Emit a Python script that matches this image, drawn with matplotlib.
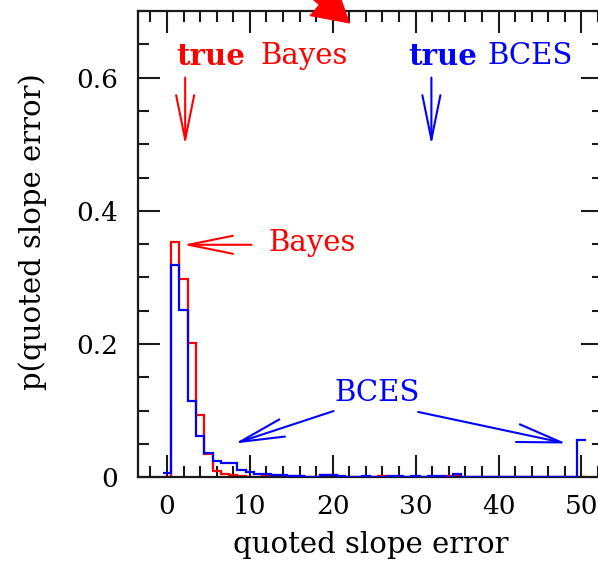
import numpy as np
import matplotlib
matplotlib.use("Agg")
import matplotlib.pyplot as plt
from matplotlib.ticker import MultipleLocator

# Histogram bins: unit width, centred on integers 0..50
bin_centers = np.arange(0, 51)
bin_edges = np.append(bin_centers - 0.5, bin_centers[-1] + 0.5)

p_bayes = [0.000, 0.353, 0.297, 0.202, 0.093, 0.035, 0.010, 0.005, 0.003, 0.002,
           0.001, 0.001, 0.002, 0.001, 0.001, 0.002, 0.002, 0.001, 0.001, 0.003,
           0.003, 0.000, 0.000, 0.001, 0.000, 0.001, 0.002, 0.000, 0.001, 0.001,
           0.000, 0.001, 0.001, 0.001, 0.002, 0.002, 0.001, 0.001, 0.001, 0.000,
           0.000, 0.000, 0.000, 0.000, 0.000, 0.001, 0.001, 0.000, 0.000, 0.000,
           0.001]

p_bces = [0.006, 0.318, 0.251, 0.114, 0.062, 0.036, 0.025, 0.022, 0.022, 0.011,
          0.0075, 0.005, 0.005, 0.0035, 0.0035, 0.002, 0.002, 0.001, 0.001, 0.004,
          0.004, 0.002, 0.000, 0.000, 0.002, 0.001, 0.000, 0.002, 0.002, 0.001,
          0.002, 0.001, 0.002, 0.002, 0.001, 0.005, 0.001, 0.001, 0.001, 0.000,
          0.000, 0.000, 0.000, 0.000, 0.000, 0.000, 0.000, 0.000, 0.000, 0.000,
          0.056]

x_ticks = [0, 10, 20, 30, 40, 50]
y_ticks = [0, 0.2, 0.4, 0.6]
y_tick_labels = ["0", "0.2", "0.4", "0.6"]

RED = "#ff0000"
BLUE = "#0000ff"
INK = "#1a1a1a"

plt.rcParams["font.family"] = ["DejaVu Serif", "DejaVu Sans"]

fig = plt.figure(figsize=(5.98, 5.65), dpi=100)
W, H = 598.0, 565.0
left, right, top, bottom = 137.5, 603.0, 11.0, 477.2
ax = fig.add_axes([left / W, 1 - bottom / H, (right - left) / W, (bottom - top) / H])

ax.stairs(p_bayes, bin_edges, baseline=None, color=RED, lw=1.6, zorder=2)
ax.stairs(p_bces, bin_edges, baseline=None, color=BLUE, lw=1.6, zorder=3)

ax.set_xlim(-3.55, 52.6)
ax.set_ylim(0, 0.7)

ax.set_xticks(x_ticks)
ax.set_xticklabels([str(v) for v in x_ticks])
ax.set_yticks(y_ticks)
ax.set_yticklabels(y_tick_labels)
ax.xaxis.set_minor_locator(MultipleLocator(2))
ax.yaxis.set_minor_locator(MultipleLocator(0.05))
ax.tick_params(which="both", direction="in", top=True, right=True,
               color=INK, width=1.5)
ax.tick_params(which="major", length=16, labelsize=19)
ax.tick_params(which="minor", length=8)
ax.tick_params(axis="x", which="major", pad=12)
ax.tick_params(axis="y", which="major", pad=14)
for s in ax.spines.values():
    s.set_color(INK)
    s.set_linewidth(1.6)

ax.set_xlabel("quoted slope error", fontsize=21)
ax.xaxis.set_label_coords(0.5, -0.1626)
ax.xaxis.label.set_va("baseline")
ax.set_ylabel("p(quoted slope error)", fontsize=21)
ax.yaxis.set_label_coords(-0.2245, 0.526)
ax.yaxis.label.set_va("center")


def pointer(tail, tip, color):
    ax.annotate("", xy=tip, xytext=tail, annotation_clip=False,
                arrowprops=dict(arrowstyle="->, head_length=3.2, head_width=0.65",
                                mutation_scale=10, color=color, lw=1.5,
                                shrinkA=0, shrinkB=0))


# "true" value markers
ax.text(5.3, 0.632, "true", color=RED, fontsize=21, fontweight="bold",
        ha="center", va="center")
ax.text(16.6, 0.632, "Bayes", color=RED, fontsize=21, ha="center", va="center")
pointer((2.2, 0.600), (2.2, 0.499), RED)
ax.text(33.3, 0.632, "true", color=BLUE, fontsize=21, fontweight="bold",
        ha="center", va="center")
ax.text(43.8, 0.632, "BCES", color=BLUE, fontsize=21, ha="center", va="center")
pointer((31.9, 0.600), (31.9, 0.499), BLUE)

# Labels for the two distributions
ax.text(12.2, 0.352, "Bayes", color=RED, fontsize=21, ha="left", va="center")
pointer((10.2, 0.349), (1.97, 0.349), RED)
ax.text(25.3, 0.126, "BCES", color=BLUE, fontsize=21, ha="center", va="center")
pointer((20.1, 0.0993), (8.2, 0.0506), BLUE)
pointer((30.3, 0.098), (48.2, 0.0506), BLUE)

# Bold arrow entering from above the frame
ax.annotate("", xy=(22.1, 0.681), xytext=(17.5, 0.73), annotation_clip=False,
            arrowprops=dict(arrowstyle="simple, head_length=1.3, head_width=1.5, tail_width=0.45",
                            mutation_scale=20, fc=RED, ec="none",
                            shrinkA=0, shrinkB=0))

fig.savefig("out.png", dpi=100)
